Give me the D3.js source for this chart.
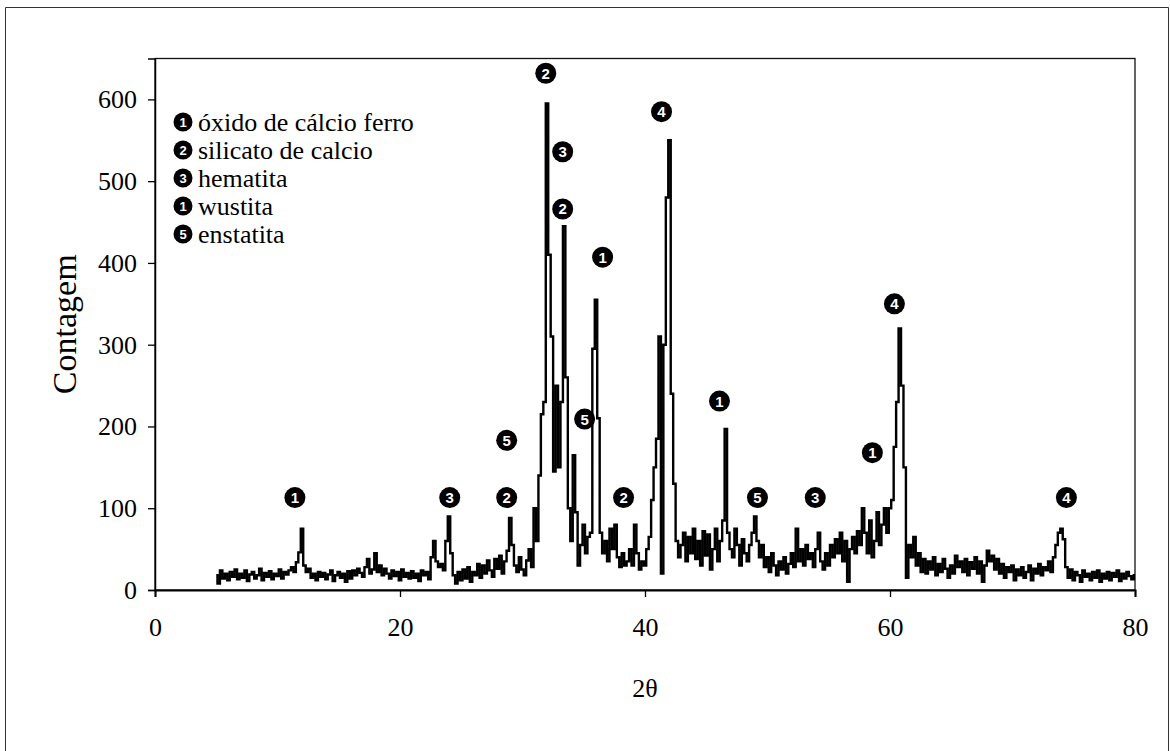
<!DOCTYPE html>
<html>
<head>
<meta charset="utf-8">
<script src="https://cdn.jsdelivr.net/npm/d3@7"></script>
<style>
  html, body { margin: 0; padding: 0; background: #fff; }
  svg { display: block; }
</style>
</head>
<body>
<div id="chart"></div>
<script>
// scan grid of the diffractometer (degrees 2θ)
const scanStart = 5;
const scanStep = 0.2;

// counts, one row per degree (5 steps of 0.2°)
const counts = [
  18, 8, 24, 14, 20,      // 5
  12, 22, 16, 25, 13,     // 6
  20, 15, 24, 11, 19,     // 7
  22, 14, 18, 26, 12,     // 8
  21, 16, 23, 13, 20,     // 9
  17, 25, 14, 22, 19,     // 10
  24, 28, 22, 34, 46,     // 11
  75, 30, 22, 26, 15,     // 12
  20, 12, 22, 16, 21,     // 13
  13, 19, 24, 11, 18,     // 14
  22, 15, 20, 10, 23,     // 15
  14, 24, 18, 26, 21,     // 16
  16, 28, 38, 20, 25,     // 17
  45, 22, 30, 18, 26,     // 18
  20, 14, 24, 17, 22,     // 19
  12, 25, 16, 21, 14,     // 20
  23, 15, 20, 11, 24,     // 21
  18, 22, 13, 40, 60,     // 22
  35, 28, 32, 24, 60,     // 23
  90, 45, 18, 8, 22,      // 24
  12, 25, 14, 28, 10,     // 25
  22, 18, 32, 15, 30,     // 26
  20, 36, 24, 16, 38,     // 27
  26, 42, 20, 35, 48,     // 28
  88, 55, 30, 22, 40,     // 29
  25, 18, 36, 50, 28,     // 30
  100, 60, 140, 215, 230, // 31
  595, 410, 310, 145, 250,// 32
  150, 230, 445, 260, 100,// 33
  60, 165, 95, 30, 55,    // 34
  80, 45, 65, 70, 295,    // 35
  355, 210, 70, 45, 60,   // 36
  35, 75, 50, 80, 40,     // 37
  28, 45, 30, 35, 50,     // 38
  30, 80, 45, 25, 35,     // 39
  30, 50, 65, 110, 150,   // 40
  185, 310, 20, 300, 480, // 41
  550, 240, 130, 60, 40,  // 42
  55, 70, 35, 65, 45,     // 43
  75, 38, 60, 30, 72,     // 44
  42, 68, 25, 50, 75,     // 45
  35, 60, 85, 197, 70,    // 46
  50, 40, 75, 55, 30,     // 47
  62, 45, 35, 55, 70,     // 48
  90, 60, 40, 55, 28,     // 49
  40, 22, 45, 30, 18,     // 50
  35, 25, 40, 20, 32,     // 51
  45, 28, 75, 35, 50,     // 52
  30, 55, 38, 45, 28,     // 53
  50, 70, 35, 25, 45,     // 54
  30, 55, 40, 62, 45,     // 55
  70, 35, 60, 10, 50,     // 56
  65, 45, 72, 55, 100,    // 57
  70, 45, 85, 40, 60,     // 58
  95, 55, 80, 100, 70,    // 59
  100, 110, 175, 230, 320,// 60
  250, 150, 15, 55, 40,   // 61
  65, 30, 45, 22, 38,     // 62
  20, 35, 25, 40, 18,     // 63
  32, 22, 38, 26, 15,     // 64
  30, 20, 42, 28, 35,     // 65
  22, 38, 18, 34, 26,     // 66
  40, 20, 35, 10, 30,     // 67
  48, 35, 42, 25, 38,     // 68
  20, 32, 15, 28, 22,     // 69
  30, 12, 25, 18, 28,     // 70
  15, 22, 30, 12, 26,     // 71
  20, 32, 18, 28, 24,     // 72
  35, 22, 40, 55, 70,     // 73
  75, 62, 28, 15, 25,     // 74
  12, 22, 18, 10, 24,     // 75
  16, 20, 12, 22, 15,     // 76
  24, 10, 20, 14, 22,     // 77
  12, 21, 16, 24, 11,     // 78
  20, 14, 22, 17, 13,     // 79
  18                      // 80
];

const xTicks = [0, 20, 40, 60, 80];
const yTicks = [0, 100, 200, 300, 400, 500, 600];

// legend, as printed (wustita carries the "1" mark in the original)
const legendMarks = ['1', '2', '3', '1', '5'];
const legendNames = ['óxido de cálcio ferro', 'silicato de calcio', 'hematita', 'wustita', 'enstatita'];

// phase marks placed over the peaks: angle, count level, phase number
const peakAngles = [11.42, 24.06, 28.71, 28.71, 31.9, 33.28, 33.28, 35.07, 36.54, 38.25, 41.35, 46.08, 49.18, 53.9, 58.56, 60.36, 74.4];
const peakLevels = [113, 113, 183, 113, 632, 536, 466, 209, 407, 113, 585, 231, 113, 113, 168, 350, 113];
const peakMarks = ['1', '3', '5', '2', '2', '3', '2', '5', '1', '2', '4', '1', '5', '3', '1', '4', '4'];

/**
 * Draws the diffractogram.
 * @class DiffractogramChart
 */
class DiffractogramChart {

  constructor(selector) {
    this.width = 1170;
    this.height = 751;
    this.plot = {left: 155, right: 1135, top: 58.5, bottom: 590};
    this.serif = '"Liberation Serif", "Times New Roman", serif';
    this.svg = d3.select(selector).append('svg')
      .attr('width', this.width)
      .attr('height', this.height);
    this.x = d3.scaleLinear().domain([0, 80]).range([this.plot.left, this.plot.right]);
    this.y = d3.scaleLinear().domain([0, 650]).range([this.plot.bottom, this.plot.top]);
  }

  render() {
    this.drawFrames();
    this.drawAxes();
    this.drawTrace();
    this.drawPeakMarks();
    this.drawLegend();
    return this;
  }

  drawFrames() {
    this.svg.append('path')
      .attr('d', `M5.5,${this.height} V7.5 H1168.5 V${this.height}`)
      .attr('fill', 'none')
      .attr('stroke', '#333')
      .attr('stroke-width', 1);

    this.svg.append('rect')
      .attr('x', this.plot.left)
      .attr('y', this.plot.top)
      .attr('width', this.plot.right - this.plot.left)
      .attr('height', this.plot.bottom - this.plot.top)
      .attr('fill', 'none')
      .attr('stroke', '#111')
      .attr('stroke-width', 1.3);
  }

  drawAxes() {
    let yAxis = d3.axisLeft(this.y).tickValues(yTicks).tickSize(7).tickPadding(11);
    let gy = this.svg.append('g')
      .attr('transform', `translate(${this.plot.left},0)`)
      .call(yAxis);
    gy.select('.domain').attr('stroke-width', 1.5);
    gy.selectAll('.tick line').attr('stroke-width', 1.3);
    gy.selectAll('text')
      .style('font-family', this.serif)
      .style('font-size', '26px')
      .attr('fill', '#000');

    let xAxis = d3.axisBottom(this.x).tickValues(xTicks).tickSize(7).tickFormat(d3.format('d'));
    let gx = this.svg.append('g')
      .attr('transform', `translate(0,${this.plot.bottom})`)
      .call(xAxis);
    gx.select('.domain').attr('stroke-width', 2);
    gx.selectAll('.tick line').attr('stroke-width', 1.3);
    gx.selectAll('text')
      .attr('y', 46)
      .attr('dy', null)
      .style('font-family', this.serif)
      .style('font-size', '26px')
      .attr('fill', '#000');

    this.svg.append('text')
      .attr('transform', `translate(64,${(this.plot.top + this.plot.bottom) / 2}) rotate(-90)`)
      .attr('text-anchor', 'middle')
      .attr('dy', '0.35em')
      .style('font-family', this.serif)
      .style('font-size', '34px')
      .text('Contagem');

    this.svg.append('text')
      .attr('x', this.x(40))
      .attr('y', 688)
      .attr('text-anchor', 'middle')
      .attr('dy', '0.35em')
      .style('font-family', this.serif)
      .style('font-size', '26px')
      .text('2θ');
  }

  drawTrace() {
    let points = counts.map((c, i) => [scanStart + i * scanStep, c]);
    let line = d3.line()
      .curve(d3.curveStep)
      .x(d => this.x(d[0]))
      .y(d => this.y(d[1]));
    this.svg.append('path')
      .datum(points)
      .attr('d', line)
      .attr('fill', 'none')
      .attr('stroke', '#000')
      .attr('stroke-width', 2.4)
      .attr('stroke-linejoin', 'miter');
  }

  // MARK: - Marks

  drawBadge(parent, cx, cy, label, r) {
    parent.append('circle')
      .attr('cx', cx)
      .attr('cy', cy)
      .attr('r', r)
      .attr('fill', '#000');
    parent.append('text')
      .attr('x', cx)
      .attr('y', cy)
      .attr('dy', '0.36em')
      .attr('text-anchor', 'middle')
      .attr('fill', '#fff')
      .style('font-family', '"Liberation Sans", Arial, sans-serif')
      .style('font-weight', 'bold')
      .style('font-size', `${Math.round(r * 1.4)}px`)
      .text(label);
  }

  drawPeakMarks() {
    let g = this.svg.append('g');
    peakAngles.forEach((a, i) => {
      this.drawBadge(g, this.x(a), this.y(peakLevels[i]), peakMarks[i], 10.5);
    });
  }

  drawLegend() {
    let g = this.svg.append('g');
    legendNames.forEach((name, i) => {
      let cy = 122 + i * 28;
      this.drawBadge(g, 183, cy, legendMarks[i], 9.5);
      g.append('text')
        .attr('x', 198)
        .attr('y', cy)
        .attr('dy', '0.33em')
        .style('font-family', this.serif)
        .style('font-size', '26px')
        .text(name);
    });
  }
}

new DiffractogramChart('#chart').render();
</script>
</body>
</html>
